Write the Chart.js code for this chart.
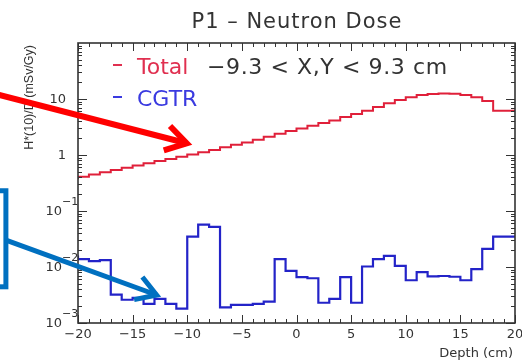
<!DOCTYPE html>
<html>
<head>
<meta charset="utf-8">
<script src="https://cdn.jsdelivr.net/npm/chart.js@4"></script>
<style>
  html, body { margin: 0; padding: 0; background: #fff; }
  canvas { display: block; }
</style>
</head>
<body>
<canvas id="dose-chart" width="522" height="363"></canvas>
<script>
// left edge of every 1 cm depth bin
const depthBins = [-20, -19, -18, -17, -16, -15, -14, -13, -12, -11,
                   -10, -9, -8, -7, -6, -5, -4, -3, -2, -1,
                   0, 1, 2, 3, 4, 5, 6, 7, 8, 9,
                   10, 11, 12, 13, 14, 15, 16, 17, 18, 19];
const binEnd = 20;

// H*(10)/D in mSv/Gy
const totalDose = [0.37, 0.41, 0.45, 0.49, 0.54, 0.59, 0.65, 0.71, 0.78, 0.85,
                   0.93, 1.02, 1.12, 1.23, 1.37, 1.52, 1.68, 1.88, 2.12, 2.39,
                   2.67, 2.98, 3.33, 3.72, 4.15, 4.75, 5.4, 6.2, 7.2, 8.4,
                   9.6, 10.7, 11.8, 12.3, 12.6, 12.4, 11.8, 10.7, 9.2, 6.2];
const cgtrDose = [0.016, 0.0138, 0.0127, 0.0133, 0.0032, 0.0026, 0.0028, 0.0022, 0.0027, 0.0022,
                  0.0018, 0.035, 0.057, 0.052, 0.0019, 0.0021, 0.0021, 0.0022, 0.0024, 0.0138,
                  0.0085, 0.0066, 0.0063, 0.0023, 0.0027, 0.0066, 0.0023, 0.0102, 0.0138, 0.0158,
                  0.0105, 0.0058, 0.0081, 0.0068, 0.0069, 0.0067, 0.0058, 0.0092, 0.021, 0.035];

const xTickValues = [-20, -15, -10, -5, 0, 5, 10, 15, 20];
const yTickValues = [0.001, 0.01, 0.1, 1, 10];

// slide annotations, given in (depth, dose) coordinates
const redArrow = { from: [-28, 13], to: [-10.05, 1.62] };
const blueArrow = { from: [-26.6, 0.0303], to: [-12.8, 0.00316] };
const blueBox = { x0: -32, x1: -26.6, yTop: 0.23, yBottom: 0.00443 };

function toSteps(values) {
    const pts = depthBins.map((x, i) => ({ x: x, y: values[i] }));
    pts.push({ x: binEnd, y: values[values.length - 1] });
    return pts;
}

const TXT = '#333';
const FONT = '"DejaVu Sans", sans-serif';

function line(ctx, x0, y0, x1, y1) {
    ctx.beginPath();
    ctx.moveTo(x0, y0);
    ctx.lineTo(x1, y1);
    ctx.stroke();
}

function drawArrow(ctx, chart, spec, color, width, barb) {
    const xs = chart.scales.x, ys = chart.scales.y;
    const x0 = xs.getPixelForValue(spec.from[0]), y0 = ys.getPixelForValue(spec.from[1]);
    const x1 = xs.getPixelForValue(spec.to[0]), y1 = ys.getPixelForValue(spec.to[1]);
    const ang = Math.atan2(y1 - y0, x1 - x0);
    ctx.save();
    ctx.strokeStyle = color;
    ctx.lineWidth = width;
    ctx.lineCap = 'butt';
    ctx.lineJoin = 'miter';
    line(ctx, x0, y0, x1, y1);
    ctx.beginPath();
    ctx.moveTo(x1 + barb * Math.cos(ang + Math.PI - 0.55), y1 + barb * Math.sin(ang + Math.PI - 0.55));
    ctx.lineTo(x1, y1);
    ctx.lineTo(x1 + barb * Math.cos(ang + Math.PI + 0.55), y1 + barb * Math.sin(ang + Math.PI + 0.55));
    ctx.stroke();
    ctx.restore();
}

function expLabel(v) {
    const e = Math.round(Math.log10(v));
    if (e === 0) return { base: '1', sup: '' };
    if (e === 1) return { base: '10', sup: '' };
    return { base: '10', sup: '\u2212' + Math.abs(e) };
}

const rootFrame = {
    id: 'rootFrame',
    afterDatasetsDraw(chart) {
        const ctx = chart.ctx, a = chart.chartArea;
        const xs = chart.scales.x, ys = chart.scales.y;
        ctx.save();
        ctx.strokeStyle = TXT;
        ctx.lineWidth = 1;
        // x ticks, bottom and top, pointing in
        for (let v = -20; v <= 20; v++) {
            const px = Math.round(xs.getPixelForValue(v)) + 0.5;
            const len = v % 5 === 0 ? 8 : 4;
            line(ctx, px, a.bottom, px, a.bottom - len);
            line(ctx, px, a.top, px, a.top + len);
        }
        // log y ticks, left and right
        for (let d = -3; d <= 1; d++) {
            for (let m = 1; m <= 9; m++) {
                const py = Math.round(ys.getPixelForValue(m * Math.pow(10, d))) + 0.5;
                const len = m === 1 ? 9 : 4;
                line(ctx, a.left, py, a.left + len, py);
                line(ctx, a.right, py, a.right - len, py);
            }
        }
        ctx.lineWidth = 1.6;
        ctx.strokeRect(a.left, a.top, a.right - a.left, a.bottom - a.top);

        ctx.fillStyle = TXT;
        // x labels
        ctx.font = '13px ' + FONT;
        ctx.textAlign = 'center';
        ctx.textBaseline = 'middle';
        xTickValues.forEach(v => {
            ctx.fillText(String(v).replace('-', '\u2212'), xs.getPixelForValue(v), a.bottom + 12);
        });
        ctx.textAlign = 'right';
        ctx.fillText('Depth (cm)', 513, a.bottom + 31);

        // y labels
        yTickValues.forEach(v => {
            const py = ys.getPixelForValue(v);
            const lab = expLabel(v);
            ctx.textBaseline = 'middle';
            if (lab.sup) {
                ctx.font = '13px ' + FONT;
                ctx.fillText(lab.base, 62, py + 1);
                ctx.font = '11px ' + FONT;
                ctx.textAlign = 'left';
                ctx.fillText(lab.sup, 62, py - 9);
                ctx.textAlign = 'right';
            } else {
                ctx.font = '13px ' + FONT;
                ctx.fillText(lab.base, 66, py + 1);
            }
        });

        // y title
        ctx.save();
        ctx.translate(30, 45);
        ctx.rotate(-Math.PI / 2);
        ctx.font = '12.5px "Liberation Sans", sans-serif';
        ctx.textAlign = 'right';
        ctx.textBaseline = 'middle';
        ctx.fillText('H*(10)/D (mSv/Gy)', 0, 0);
        ctx.restore();

        // title
        ctx.font = '21px ' + FONT;
        ctx.letterSpacing = '1px';
        ctx.textAlign = 'center';
        ctx.textBaseline = 'alphabetic';
        ctx.fillText('P1 \u2013 Neutron Dose', 297, 28);

        // legend
        ctx.font = '22px ' + FONT;
        ctx.letterSpacing = '0px';
        ctx.textAlign = 'left';
        ctx.fillStyle = '#e03050';
        ctx.fillRect(113, 64, 9, 2);
        ctx.fillText('Total', 137, 74);
        ctx.fillStyle = TXT;
        ctx.letterSpacing = '0.6px';
        ctx.fillText('\u22129.3 < X,Y < 9.3 cm', 207, 74);
        ctx.letterSpacing = '0px';
        ctx.fillStyle = '#3a3ae0';
        ctx.fillRect(113, 96, 9, 2);
        ctx.fillText('CGTR', 137, 106);
        ctx.restore();
    },
    afterDraw(chart) {
        const ctx = chart.ctx;
        const xs = chart.scales.x, ys = chart.scales.y;
        // blue box at the slide edge
        const bx0 = xs.getPixelForValue(blueBox.x0), bx1 = xs.getPixelForValue(blueBox.x1);
        const by0 = ys.getPixelForValue(blueBox.yTop), by1 = ys.getPixelForValue(blueBox.yBottom);
        ctx.save();
        ctx.strokeStyle = '#0070c0';
        ctx.lineWidth = 5;
        ctx.strokeRect(bx0, by0, bx1 - bx0, by1 - by0);
        ctx.restore();
        drawArrow(ctx, chart, redArrow, '#ff0000', 6, 24);
        drawArrow(ctx, chart, blueArrow, '#0070c0', 5, 23);
    }
};

const ctx = document.getElementById('dose-chart').getContext('2d');
const doseChart = new Chart(ctx, {
    type: 'line',
    data: {
        datasets: [{
            label: 'Total',
            data: toSteps(totalDose),
            borderColor: '#e0203a',
            borderWidth: 2,
            stepped: 'after',
            pointRadius: 0,
            fill: false,
        }, {
            label: 'CGTR',
            data: toSteps(cgtrDose),
            borderColor: '#2323c8',
            borderWidth: 2.2,
            stepped: 'after',
            pointRadius: 0,
            fill: false,
        }]
    },
    options: {
        responsive: false,
        animation: false,
        devicePixelRatio: 1,
        layout: { padding: { left: 78, right: 7, top: 43, bottom: 40 } },
        plugins: {
            legend: { display: false },
            title: { display: false },
            tooltip: { enabled: false }
        },
        scales: {
            x: { type: 'linear', min: -20, max: 20, display: false },
            y: { type: 'logarithmic', min: 0.001, max: 100, display: false }
        }
    },
    plugins: [rootFrame]
});
</script>
</body>
</html>
